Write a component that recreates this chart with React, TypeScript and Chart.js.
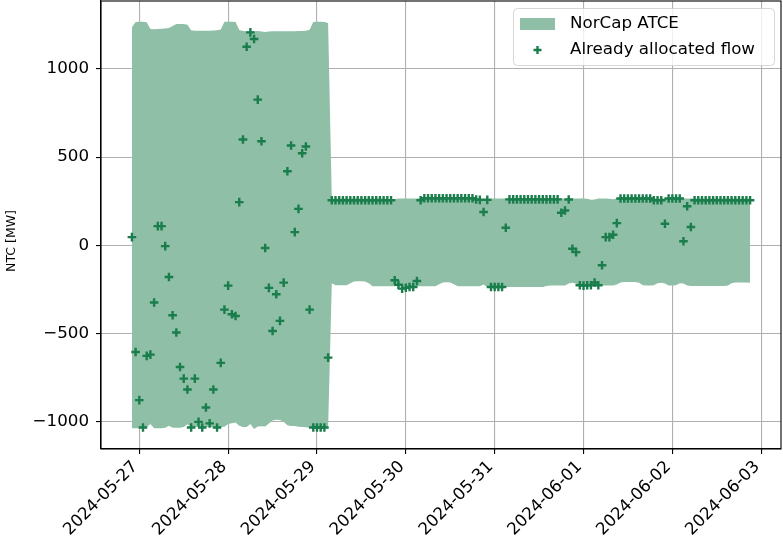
import React, { useEffect, useRef } from 'react';
import { Chart, registerables } from 'chart.js';

Chart.register(...registerables);

// ---- data -------------------------------------------------------------
const START_UTC = '2024-05-26T22:00:00Z'; // first hourly value
const HOUR_MS = 3600000;

const upperATCE: number[] = [
  1235, 1266, 1267, 1267, 1264, 1226, 1225, 1226, 1228, 1229, 1232, 1244,
  1254, 1255, 1255, 1250, 1219, 1216, 1216, 1217, 1216, 1217, 1218, 1219,
  1224, 1267, 1268, 1268, 1266, 1220, 1215, 1214, 1214, 1213, 1215, 1212,
  1210, 1212, 1214, 1214, 1213, 1213, 1214, 1214, 1214, 1215, 1215, 1216,
  1222, 1266, 1267, 1267, 1266, 1261,
  265, 266, 266, 266, 265, 266, 266, 266, 266, 265, 266, 266,
  266, 266, 265, 263, 260, 263, 265, 266, 266, 266, 266, 266,
  266, 267, 267, 267, 267, 267, 267, 267, 267, 267, 267, 266,
  266, 266, 266, 266, 266, 266, 266, 266, 266, 266, 266, 265,
  265, 265, 266, 266, 266, 266, 266, 266, 266, 266, 266, 266,
  266, 266, 266, 266, 266, 265, 265, 265, 265, 264, 258, 260,
  265, 265, 265, 264, 262, 265, 265, 265, 266, 266, 266, 266,
  266, 266, 266, 266, 266, 266, 266, 266, 266, 266, 266, 266,
  266, 266, 266, 266, 266, 266, 266, 266, 266, 266, 266, 266,
  266, 266, 266, 266, 266, 266,
];

const lowerATCE: number[] = [
  -1036, -1037, -1037, -1034, -1030, -1012, -1036, -1037, -1037, -1034, -1022, -1033,
  -1034, -1033, -1030, -1014, -1031, -1030, -1030, -1031, -1030, -1030, -1031, -1030,
  -1030, -1028, -1012, -1008, -1004, -1022, -1030, -1030, -1012, -1040, -1026, -1025,
  -1026, -1010, -992, -988, -990, -1000, -1020, -1023, -1024, -1028, -1030, -1031,
  -1033, -1036, -1037, -1037, -1036, -1036,
  -215, -226, -226, -226, -226, -215, -205, -204, -204, -205, -215, -232,
  -232, -232, -232, -232, -232, -232, -232, -232, -232, -232, -232, -232,
  -232, -232, -232, -232, -232, -220, -210, -209, -210, -220, -232, -232,
  -232, -232, -232, -232, -232, -222, -236, -236, -236, -236, -236, -236,
  -236, -236, -236, -236, -236, -236, -236, -236, -236, -236, -230, -228,
  -228, -228, -228, -228, -216, -212, -218, -228, -228, -228, -228, -228,
  -228, -228, -228, -228, -228, -222, -210, -208, -208, -208, -208, -212,
  -226, -228, -228, -226, -214, -212, -216, -228, -228, -226, -215, -216,
  -228, -230, -230, -230, -230, -230, -230, -230, -230, -230, -230, -228,
  -215, -210, -210, -210, -210, -212,
];

const allocatedFlow: number[] = [
  47, -604, -877, -1032, -626, -619, -324, 109, 109, -4, -179, -396,
  -494, -689, -755, -817, -1032, -755, -1000, -1032, -919, -1009, -817, -1032,
  -666, -364, -228, -390, -400, 245, 600, 1126, 1207, 1170, 826, 590,
  -15, -241, -485, -277, -428, -211, 420, 566, 75, 207, 522, 560,
  -364, -1032, -1032, -1032, -1032, -636,
  256, 256, 256, 256, 256, 256, 256, 256, 256, 256, 256, 256,
  256, 256, 256, 256, 256, -198, -223, -245, -240, -236, -236, -202,
  256, 267, 267, 267, 267, 267, 267, 267, 267, 267, 267, 267,
  267, 267, 267, 260, 258, 189, 258, -236, -236, -236, -236, 100,
  261, 261, 261, 261, 261, 261, 261, 261, 261, 261, 261, 261,
  261, 261, 185, 198, 260, -19, -38, -226, -228, -226, -226, -210,
  -226, -113, 47, 47, 60, 126, 266, 266, 266, 266, 266, 266,
  266, 266, 266, 256, 256, 256, 123, 266, 266, 266, 266, 23,
  222, 104, 256, 256, 256, 256, 256, 256, 256, 256, 256, 256,
  256, 256, 256, 256, 256, 256,
];

const xTickLabels: string[] = [
  '2024-05-27', '2024-05-28', '2024-05-29', '2024-05-30',
  '2024-05-31', '2024-06-01', '2024-06-02', '2024-06-03',
];
const yTickValues: number[] = [-1000, -500, 0, 500, 1000];

const SERIES_FILL_LABEL = 'NorCap ATCE';
const SERIES_FLOW_LABEL = 'Already allocated flow';
const Y_TITLE = 'NTC [MW]';

// ---- styles -----------------------------------------------------------
const FILL_COLOR = '#8fbfa6';
const FLOW_COLOR = '#1a7d4c';
const GRID_COLOR = '#b0b0b0';
const FONT_FAMILY = '"DejaVu Sans", "Liberation Sans", sans-serif';
const FONT_SIZE = 16.7;

export default function App() {
  const canvasRef = useRef<HTMLCanvasElement | null>(null);

  useEffect(() => {
    const canvas = canvasRef.current;
    if (!canvas) return;

    const start = Date.parse(START_UTC);
    const xs = upperATCE.map((_, i) => start + i * HOUR_MS);
    const span = xs[xs.length - 1] - xs[0];
    const xMin = xs[0] - 0.05 * span;
    const xMax = xs[xs.length - 1] + 0.05 * span;
    const xTickValues = xTickLabels.map((d) => Date.parse(d + 'T00:00:00Z'));

    const fmt = (v: number) => (v < 0 ? '\u2212' + Math.abs(v) : String(v));

    const overlay = {
      id: 'mplOverlay',
      afterDraw(chart: any) {
        const { ctx, chartArea: a } = chart;
        ctx.save();
        // frame (top/right spines)
        ctx.strokeStyle = '#000';
        ctx.lineWidth = 1.1;
        ctx.strokeRect(a.left, a.top, a.right - a.left, a.bottom - a.top);

        // y-axis title
        ctx.save();
        ctx.translate(12, 241);
        ctx.rotate(-Math.PI / 2);
        ctx.fillStyle = '#000';
        ctx.font = `12.5px ${FONT_FAMILY}`;
        ctx.textAlign = 'center';
        ctx.textBaseline = 'middle';
        ctx.fillText(Y_TITLE, 0, 0);
        ctx.restore();

        // legend
        const bx = 513, by = 8, bw = 261, bh = 57, r = 4;
        ctx.beginPath();
        ctx.roundRect(bx + 0.5, by + 0.5, bw, bh, r);
        ctx.fillStyle = 'rgba(255,255,255,0.8)';
        ctx.fill();
        ctx.strokeStyle = 'rgba(204,204,204,0.8)';
        ctx.lineWidth = 1;
        ctx.stroke();

        ctx.fillStyle = FILL_COLOR;
        ctx.fillRect(520, 18, 35, 12);

        ctx.strokeStyle = FLOW_COLOR;
        ctx.lineWidth = 2.4;
        ctx.beginPath();
        ctx.moveTo(533.5, 50);
        ctx.lineTo(541.5, 50);
        ctx.moveTo(537.5, 46);
        ctx.lineTo(537.5, 54);
        ctx.stroke();

        ctx.fillStyle = '#000';
        ctx.font = `${FONT_SIZE}px ${FONT_FAMILY}`;
        ctx.textAlign = 'left';
        ctx.textBaseline = 'middle';
        ctx.fillText(SERIES_FILL_LABEL, 570, 24);
        ctx.fillText(SERIES_FLOW_LABEL, 570, 50);
        ctx.restore();
      },
    };

    const chart = new Chart(canvas, {
      type: 'line',
      data: {
        datasets: [
          {
            type: 'scatter',
            label: SERIES_FLOW_LABEL,
            data: xs.map((x, i) => ({ x, y: allocatedFlow[i] })),
            pointStyle: 'cross',
            pointRadius: 4.3,
            pointHoverRadius: 4.3,
            borderColor: FLOW_COLOR,
            backgroundColor: FLOW_COLOR,
            borderWidth: 2.4,
            order: 0,
          } as any,
          {
            type: 'line',
            label: SERIES_FILL_LABEL,
            data: xs.map((x, i) => ({ x, y: upperATCE[i] })),
            fill: '+1',
            backgroundColor: FILL_COLOR,
            borderColor: 'rgba(0,0,0,0)',
            borderWidth: 0,
            pointRadius: 0,
            tension: 0,
            order: 1,
          },
          {
            type: 'line',
            label: 'lower',
            data: xs.map((x, i) => ({ x, y: lowerATCE[i] })),
            fill: false,
            borderColor: 'rgba(0,0,0,0)',
            borderWidth: 0,
            pointRadius: 0,
            tension: 0,
            order: 2,
          },
        ],
      },
      options: {
        animation: false,
        responsive: false,
        devicePixelRatio: 1,
        layout: { autoPadding: false, padding: { left: 0, right: 2, top: 1, bottom: 0 } },
        plugins: { legend: { display: false }, tooltip: { enabled: false } },
        events: [],
        scales: {
          x: {
            type: 'linear',
            min: xMin,
            max: xMax,
            z: 1,
            afterBuildTicks: (axis: any) => {
              axis.ticks = xTickValues.map((v) => ({ value: v }));
            },
            afterFit: (s: any) => {
              s.height = 96;
              s.paddingLeft = 0;
              s.paddingRight = 0;
              s.paddingTop = 0;
              s.paddingBottom = 0;
            },
            ticks: {
              autoSkip: false,
              minRotation: 45,
              maxRotation: 45,
              padding: 3,
              labelOffset: -4,
              color: '#000',
              font: { family: FONT_FAMILY, size: FONT_SIZE },
              callback: (_v: any, i: number) => xTickLabels[i],
            },
            grid: {
              color: GRID_COLOR,
              lineWidth: 1.1,
              tickColor: '#000',
              tickLength: 5,
              tickWidth: 1.1,
            },
            border: { display: true, color: '#000', width: 1.1 },
          },
          y: {
            type: 'linear',
            min: -1154,
            max: 1385,
            z: 1,
            afterBuildTicks: (axis: any) => {
              axis.ticks = yTickValues.map((v) => ({ value: v }));
            },
            afterFit: (s: any) => {
              s.width = 101;
              s.paddingLeft = 0;
              s.paddingRight = 0;
              s.paddingTop = 0;
              s.paddingBottom = 0;
            },
            ticks: {
              padding: 7,
              color: '#000',
              font: { family: FONT_FAMILY, size: FONT_SIZE },
              callback: (v: any) => fmt(Number(v)),
            },
            grid: {
              color: GRID_COLOR,
              lineWidth: 1.1,
              tickColor: '#000',
              tickLength: 5,
              tickWidth: 1.1,
            },
            border: { display: true, color: '#000', width: 1.1 },
          },
        },
      },
      plugins: [overlay],
    });

    return () => chart.destroy();
  }, []);

  return (
    <div style={{ position: 'fixed', left: 0, top: 0, width: 783, height: 545, background: '#fff' }}>
      <canvas ref={canvasRef} width={783} height={545} style={{ display: 'block' }} />
    </div>
  );
}
